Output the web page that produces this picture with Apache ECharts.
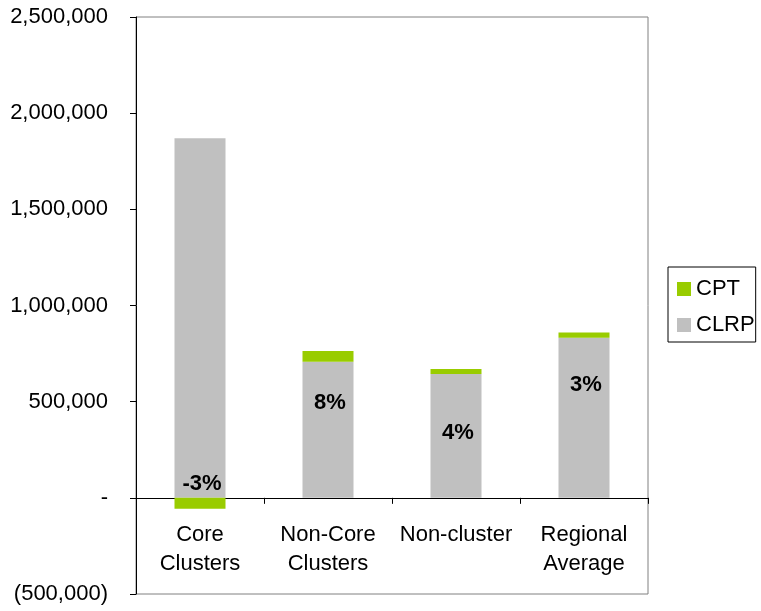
<!DOCTYPE html>
<html>
<head>
<meta charset="utf-8">
<script src="https://cdn.jsdelivr.net/npm/echarts@6/dist/echarts.min.js"></script>
<style>
  html, body { margin: 0; padding: 0; background: #fff; }
  #chart { width: 761px; height: 611px; }
</style>
</head>
<body>
<div id="chart"></div>
<script>
// Categories and values
const categories = ['Core\nClusters', 'Non-Core\nClusters', 'Non-cluster', 'Regional\nAverage'];
const clrpValues = [1870000, 707000, 644000, 832000];
const cptValues = [-57000, 57000, 26000, 28000];
const cptPctLabels = ['-3%', '8%', '4%', '3%'];

// Label lift above the baseline (px), per bar
const labelLift = [14, 95, 65, 113];

const FONT = "'Liberation Sans', Arial, sans-serif";

function fmtAxis(v) {
  if (v === 0) return '-';
  const s = Math.abs(v).toLocaleString('en-US');
  return v < 0 ? '(' + s + ')' : s;
}

const chart = echarts.init(document.getElementById('chart'), null, { renderer: 'canvas' });

chart.setOption({
  animation: false,
  backgroundColor: '#ffffff',
  textStyle: { fontFamily: FONT },
  grid: {
    left: 136, right: 113, top: 17, bottom: 17,
    show: true, borderColor: '#808080', borderWidth: 1,
    containLabel: false,
    outerBoundsMode: 'none'
  },
  legend: {
    orient: 'vertical',
    left: 668, top: 267,
    data: ['CPT', 'CLRP'],
    icon: 'rect',
    itemWidth: 14, itemHeight: 14,
    itemGap: 14,
    padding: [11, 1, 6, 9],
    borderColor: '#000', borderWidth: 1,
    textStyle: { fontFamily: FONT, fontSize: 22, color: '#000' }
  },
  xAxis: {
    type: 'category',
    data: categories,
    axisLine: { onZero: true, lineStyle: { color: '#000', width: 1 } },
    axisTick: { show: true, alignWithLabel: false, length: 6, inside: false, lineStyle: { color: '#000' } },
    axisLabel: {
      fontFamily: FONT, fontSize: 22, color: '#000', margin: 24,
      lineHeight: 29, interval: 0, align: 'center'
    },
    splitLine: { show: false }
  },
  yAxis: {
    type: 'value',
    min: -500000, max: 2500000, interval: 500000,
    axisLine: { show: true, lineStyle: { color: '#000', width: 1 } },
    axisTick: { show: true, length: 6, lineStyle: { color: '#000' } },
    axisLabel: { fontFamily: FONT, fontSize: 22, color: '#000', margin: 28, formatter: fmtAxis },
    splitLine: { show: false }
  },
  series: [
    {
      name: 'CLRP',
      type: 'bar',
      stack: 'total',
      barWidth: 51,
      itemStyle: { color: '#C0C0C0' },
      data: clrpValues.map((v, i) => ({
        value: v,
        label: {
          show: true,
          position: ['50%', '100%'],
          offset: [2, -labelLift[i]],
          align: 'center',
          verticalAlign: 'middle',
          formatter: () => cptPctLabels[i],
          fontFamily: FONT, fontSize: 22, fontWeight: 'bold', color: '#000'
        }
      }))
    },
    {
      name: 'CPT',
      type: 'bar',
      stack: 'total',
      barWidth: 51,
      itemStyle: { color: '#99CC00' },
      data: cptValues
    }
  ]
});

// Category labels sit just under the zero line
function placeCategoryLabels() {
  const zeroY = chart.convertToPixel({ yAxisIndex: 0 }, 0);
  const gridBottom = 611 - 17;
  chart.setOption({ xAxis: { axisLabel: { margin: Math.round(zeroY - gridBottom) + 22 } } });
}
placeCategoryLabels();
</script>
</body>
</html>
